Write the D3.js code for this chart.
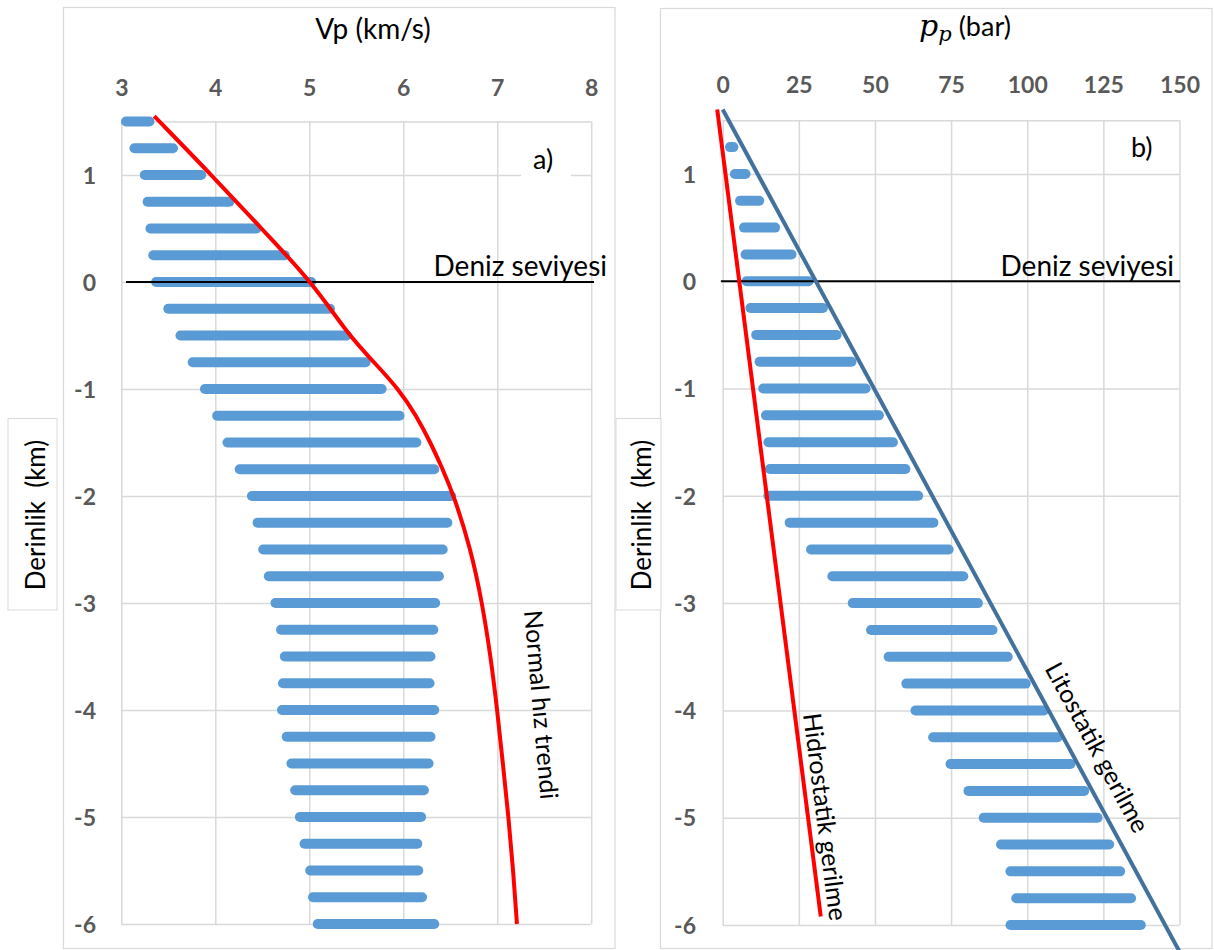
<!DOCTYPE html>
<html><head><meta charset="utf-8">
<script src="https://cdn.jsdelivr.net/npm/d3@7"></script>
<style>body{margin:0;background:#fff}svg{display:block}</style>
</head><body>
<svg id="c" width="1214" height="950"></svg>
<script>
// ---------- DATA ----------
// Panel a) Vp (km/s) vs depth (km)
const vpTicks = [3, 4, 5, 6, 7, 8];
const depthTicks = [1, 0, -1, -2, -3, -4, -5, -6];
const vpDepths = [1.5,1.25,1,0.75,0.5,0.25,0,-0.25,-0.5,-0.75,-1,-1.25,-1.5,-1.75,-2,-2.25,-2.5,-2.75,-3,-3.25,-3.5,-3.75,-4,-4.25,-4.5,-4.75,-5,-5.25,-5.5,-5.75,-6];
const vpMin = [3.05,3.14,3.25,3.28,3.31,3.34,3.37,3.50,3.63,3.76,3.89,4.02,4.13,4.26,4.39,4.45,4.51,4.57,4.64,4.70,4.74,4.72,4.71,4.76,4.81,4.85,4.90,4.95,5.01,5.04,5.09];
const vpMax = [3.30,3.55,3.85,4.15,4.44,4.74,5.02,5.22,5.40,5.60,5.77,5.96,6.14,6.33,6.51,6.47,6.42,6.38,6.34,6.32,6.29,6.28,6.33,6.29,6.27,6.22,6.19,6.15,6.16,6.20,6.33];
const trendDepths = [1.55,1,0.5,0,-0.5,-0.75,-1,-1.25,-1.5,-1.75,-2,-2.5,-3,-3.5,-4,-4.5,-5,-5.5,-6];
const trendVp = [3.35,3.96,4.49,5.03,5.42,5.69,5.95,6.14,6.29,6.42,6.54,6.72,6.84,6.93,7.00,7.06,7.12,7.17,7.21];
const seaA = [3.05, 8.03];

// Panel b) pore pressure (bar) vs depth (km)
const ppTicks = [0, 25, 50, 75, 100, 125, 150];
const ppDepths = [1.25,1,0.75,0.5,0.25,0,-0.25,-0.5,-0.75,-1,-1.25,-1.5,-1.75,-2,-2.25,-2.5,-2.75,-3,-3.25,-3.5,-3.75,-4,-4.25,-4.5,-4.75,-5,-5.25,-5.5,-5.75,-6];
const ppMin = [2.4,4.0,5.7,7.0,7.5,7.8,9.1,11.0,12.1,13.3,14.2,15.0,15.5,15.0,22.0,29.0,36.0,42.7,48.7,54.5,60.3,63.3,69.1,74.8,80.7,85.7,91.4,94.5,96.4,94.5];
const ppMax = [3.5,7.5,12.0,17.2,22.6,28.2,32.9,37.4,42.3,46.9,51.3,55.9,60.0,64.2,69.2,74.2,79.0,83.8,88.6,93.6,99.5,105.5,110.0,114.2,118.7,123.1,126.9,130.5,134.1,137.3];
const hydroDepths = [1.6, -5.92];
const hydroVals = [-1.8, 32.2];
const lithoDepths = [1.6, -6.3];
const lithoVals = [0, 151];
const seaB = [-0.6, 150.2];

// ---------- STYLE ----------
const FONT = "Lato, 'Open Sans', 'DejaVu Sans', sans-serif";
const gridC = "#d9d9d9", tickC = "#595959", barC = "#5b9bd5", redC = "#ff0000", lithoC = "#41719c";
const BAR_W = 10;

const svg = d3.select("#c");

// frames
svg.append("rect").attr("x",63.5).attr("y",7.5).attr("width",551.5).attr("height",941)
  .attr("fill","#fff").attr("stroke",gridC).attr("stroke-width",1.2);
svg.append("rect").attr("x",660.5).attr("y",8.5).attr("width",551.5).attr("height",940)
  .attr("fill","#fff").attr("stroke",gridC).attr("stroke-width",1.2);

function drawPanel(p) {
  const {x, y, xTicks, xLabelY, yLabelX} = p;
  const g = svg.append("g");
  const [x0, x1] = x.range();
  const yTop = y(1.5), yBot = y(-6);
  g.append("g").attr("transform",`translate(0,${yBot})`)
    .call(d3.axisBottom(x).tickValues(xTicks).tickSize(-(yBot - yTop)).tickFormat(""))
    .call(s => s.select(".domain").remove())
    .selectAll("line").attr("stroke",gridC).attr("stroke-width",1.5);
  g.append("g").attr("transform",`translate(${x0},0)`)
    .call(d3.axisLeft(y).tickValues(depthTicks.concat([1.5])).tickSize(-(x1 - x0)).tickFormat(""))
    .call(s => s.select(".domain").remove())
    .selectAll("line").attr("stroke",gridC).attr("stroke-width",1.5);
  const ax = g.append("g").attr("transform",`translate(0,${xLabelY})`)
    .call(d3.axisTop(x).tickValues(xTicks).tickSize(0).tickPadding(0).tickFormat(d => String(d)));
  ax.select(".domain").remove();
  ax.selectAll("text").attr("y",0).attr("dy","0.36em")
    .attr("font-family",FONT).attr("font-size",23).attr("font-weight","bold").attr("fill",tickC);
  const ay = g.append("g").attr("transform",`translate(${yLabelX},0)`)
    .call(d3.axisLeft(y).tickValues(depthTicks).tickSize(0).tickPadding(0).tickFormat(d => String(d)));
  ay.select(".domain").remove();
  ay.selectAll("text").attr("x",0).attr("dy","0.36em")
    .attr("font-family",FONT).attr("font-size",23).attr("font-weight","bold").attr("fill",tickC);
  return g;
}

// ---------- PANEL A ----------
const xA = d3.scaleLinear().domain([3, 8]).range([121.3, 591.2]);
const yA = d3.scaleLinear().domain([-6, 1.5]).range([924, 121.5]);
drawPanel({x: xA, y: yA, xTicks: vpTicks, xLabelY: 88, yLabelX: 96});

svg.append("rect").attr("x",521).attr("y",143).attr("width",50).attr("height",42).attr("fill","#fff");
svg.append("text").attr("x",533).attr("y",169).text("a)")
  .attr("font-family",FONT).attr("font-size",27).attr("fill","#000");

svg.append("g").selectAll("line").data(vpDepths).join("line")
  .attr("x1",(d,i) => xA(vpMin[i])).attr("x2",(d,i) => xA(vpMax[i]))
  .attr("y1",d => yA(d)).attr("y2",d => yA(d))
  .attr("stroke",barC).attr("stroke-width",BAR_W).attr("stroke-linecap","round");

svg.append("line").attr("x1",xA(seaA[0])).attr("x2",xA(seaA[1]))
  .attr("y1",yA(0)).attr("y2",yA(0)).attr("stroke","#000").attr("stroke-width",2);
svg.append("text").attr("x",607).attr("y",276).attr("text-anchor","end").text("Deniz seviyesi")
  .attr("font-family",FONT).attr("font-size",28).attr("fill","#000");

const trendPts = trendDepths.map((d,i) => ({d, v: trendVp[i]}));
svg.append("path").datum(trendPts)
  .attr("d", d3.line().x(p => xA(p.v)).y(p => yA(p.d)).curve(d3.curveBasis))
  .attr("fill","none").attr("stroke",redC).attr("stroke-width",4);

svg.append("text")
  .attr("transform",`translate(${xA(7.48)},${yA(-3.95)}) rotate(85)`)
  .attr("text-anchor","middle").attr("dominant-baseline","central")
  .text("Normal hız trendi").attr("font-family",FONT).attr("font-size",25).attr("fill","#000");

svg.append("text").attr("x",373).attr("y",39).attr("text-anchor","middle").text("Vp (km/s)")
  .attr("font-family",FONT).attr("font-size",28).attr("fill","#000");

svg.append("rect").attr("x",8).attr("y",418.5).attr("width",49).attr("height",191.5)
  .attr("fill","#fff").attr("stroke",gridC).attr("stroke-width",1);
svg.append("text").attr("transform","translate(35,515) rotate(-90)")
  .attr("text-anchor","middle").attr("dominant-baseline","central")
  .text("Derinlik  (km)").attr("font-family",FONT).attr("font-size",26).attr("fill","#000")
  .style("white-space","pre");

// ---------- PANEL B ----------
const xB = d3.scaleLinear().domain([0, 150]).range([722.7, 1179.5]);
const yB = d3.scaleLinear().domain([-6, 1.5]).range([925, 120.3]);
drawPanel({x: xB, y: yB, xTicks: ppTicks, xLabelY: 85, yLabelX: 696});

svg.append("text").attr("x",1131).attr("y",157).text("b)")
  .attr("font-family",FONT).attr("font-size",27).attr("fill","#000");

svg.append("g").selectAll("line").data(ppDepths).join("line")
  .attr("x1",(d,i) => xB(ppMin[i])).attr("x2",(d,i) => xB(ppMax[i]))
  .attr("y1",d => yB(d)).attr("y2",d => yB(d))
  .attr("stroke",barC).attr("stroke-width",BAR_W).attr("stroke-linecap","round");

svg.append("line").attr("x1",xB(seaB[0])).attr("x2",xB(seaB[1]))
  .attr("y1",yB(0)).attr("y2",yB(0)).attr("stroke","#000").attr("stroke-width",2);
svg.append("text").attr("x",1174).attr("y",276).attr("text-anchor","end").text("Deniz seviyesi")
  .attr("font-family",FONT).attr("font-size",28).attr("fill","#000");

const hydroPts = hydroDepths.map((d,i) => ({d, v: hydroVals[i]}));
const lithoPts = lithoDepths.map((d,i) => ({d, v: lithoVals[i]}));
const lineB = d3.line().x(p => xB(p.v)).y(p => yB(p.d));
svg.append("path").datum(lithoPts).attr("d",lineB)
  .attr("fill","none").attr("stroke",lithoC).attr("stroke-width",4);
svg.append("path").datum(hydroPts).attr("d",lineB)
  .attr("fill","none").attr("stroke",redC).attr("stroke-width",4);

function angleOf(pts) {
  return Math.atan2(yB(pts[1].d) - yB(pts[0].d), xB(pts[1].v) - xB(pts[0].v)) * 180 / Math.PI;
}
svg.append("text")
  .attr("transform",`translate(${xB(34)},${yB(-4.99)}) rotate(${angleOf(hydroPts)})`)
  .attr("text-anchor","middle").attr("dominant-baseline","central")
  .text("Hidrostatik gerilme").attr("font-family",FONT).attr("font-size",25).attr("fill","#000");
svg.append("text")
  .attr("transform",`translate(${xB(123.3)},${yB(-4.34)}) rotate(${angleOf(lithoPts)})`)
  .attr("text-anchor","middle").attr("dominant-baseline","central")
  .text("Litostatik gerilme").attr("font-family",FONT).attr("font-size",25).attr("fill","#000");

const tB = svg.append("text").attr("x",965).attr("y",36).attr("text-anchor","middle").attr("fill","#000");
tB.append("tspan").text("p").attr("font-family","'DejaVu Serif', 'Liberation Serif', serif")
  .attr("font-style","italic").attr("font-size",30);
tB.append("tspan").text("p").attr("font-family","'DejaVu Serif', 'Liberation Serif', serif")
  .attr("font-style","italic").attr("font-size",21).attr("dy",5);
tB.append("tspan").text(" (bar)").attr("font-family",FONT).attr("font-size",27).attr("dy",-5);

svg.append("rect").attr("x",616).attr("y",418.5).attr("width",45).attr("height",191.5)
  .attr("fill","#fff").attr("stroke",gridC).attr("stroke-width",1);
svg.append("text").attr("transform","translate(641,515) rotate(-90)")
  .attr("text-anchor","middle").attr("dominant-baseline","central")
  .text("Derinlik  (km)").attr("font-family",FONT).attr("font-size",26).attr("fill","#000")
  .style("white-space","pre");
</script>
</body></html>
